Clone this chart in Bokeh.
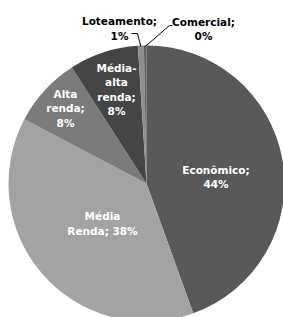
import math
from bokeh.plotting import figure
from bokeh.models import Range1d, ColumnDataSource
from bokeh.core.properties import value
from bokeh.embed import file_html
from bokeh.resources import INLINE

# ---- data ----
categories = ["Econômico", "Média Renda", "Alta renda", "Média-alta renda", "Loteamento", "Comercial"]
shares = [44.5, 38.2, 8.2, 8.1, 0.7, 0.3]
label_texts = ["Econômico;\n44%", "Média\nRenda; 38%", "Alta\nrenda;\n8%",
               "Média-\nalta\nrenda;\n8%", "Loteamento;\n1%", "Comercial;\n0%"]

# ---- style / layout ----
colors = ["#595959", "#a3a3a3", "#7b7b7b", "#454545", "#8f8f8f", "#5e5e5e"]
label_colors = ["white", "white", "white", "white", "black", "black"]
label_pos = [(215.5, 176.5), (102, 223), (65, 108), (116, 89), (119, 28), (203, 28.5)]
cx, cy, R = 146.0, 183.0, 138.0

W, H = 283, 317
p = figure(width=W, height=H, x_range=Range1d(0, W), y_range=Range1d(-H, 0),
           output_backend="svg", toolbar_location=None, min_border=0)
p.axis.visible = False
p.grid.visible = False
p.outline_line_color = None
p.background_fill_color = "white"
p.border_fill_color = "white"

total = sum(shares)
starts, ends, mids = [], [], []
acc = 0.0
for s in shares:
    t1 = acc / total * 2 * math.pi
    acc += s
    t2 = acc / total * 2 * math.pi
    starts.append(math.pi / 2 - t2)
    ends.append(math.pi / 2 - t1)
    mids.append((t1 + t2) / 2)

src = ColumnDataSource(dict(start=starts, end=ends, color=colors, cat=categories))
p.wedge(x=cx, y=-cy, radius=R, start_angle="start", end_angle="end",
        fill_color="color", line_color=None, source=src)

# leader lines for the two small slices
def edge_pt(theta, r):
    return cx + r * math.sin(theta), cy - r * math.cos(theta)

ex, ey = edge_pt(mids[4], R - 1)
p.line([131, 137, ex], [-33, -33, -ey], line_color="black", line_width=1)
ex, ey = edge_pt(mids[5], R - 1)
p.line([172, 169, ex], [-25, -25, -ey], line_color="black", line_width=1)

lsrc = ColumnDataSource(dict(x=[a for a, b in label_pos], y=[-b for a, b in label_pos],
                             text=label_texts, color=label_colors))
p.text(x="x", y="y", text="text", text_color="color", source=lsrc,
       text_font=value("DejaVu Sans"), text_font_style="bold", text_font_size="10.5px",
       text_align="center", text_baseline="middle", text_line_height=1.2)

open("out.html", "w").write(file_html(p, INLINE))
